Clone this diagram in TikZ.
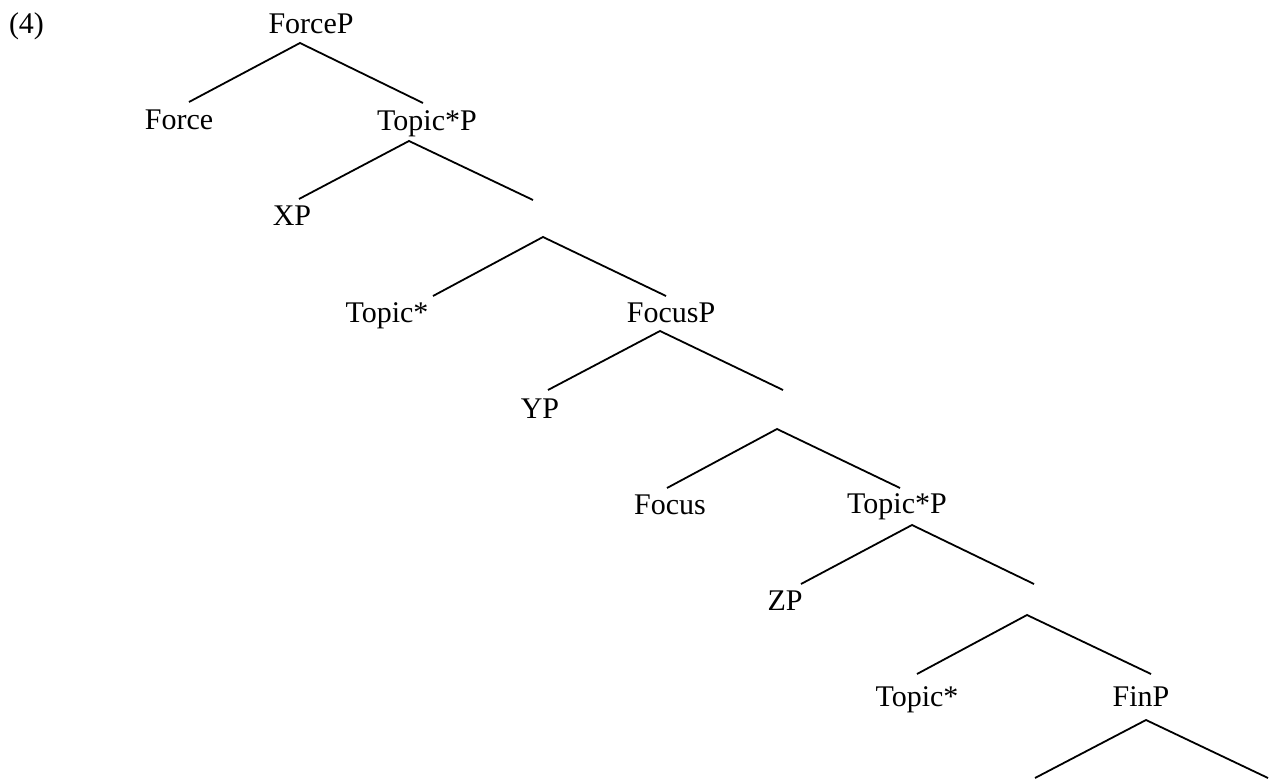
\documentclass[tikz,border=0pt]{standalone}
\usepackage{fontspec}
\setmainfont{Liberation Serif}
\begin{document}
\begin{tikzpicture}[x=0.5pt,y=-0.5pt,
  lbl/.style={anchor=base,inner sep=0pt,font=\fontsize{15}{18}\selectfont},
  branch/.style={line width=0.9pt,line cap=butt}]
\useasboundingbox (0,0) rectangle (1278,780);
% labels
\node[lbl] (ex) at (26.5,34) {(4)};
\node[lbl] (forcep) at (311,34) {ForceP};
\node[lbl] (force) at (179,130) {Force};
\node[lbl] (topp1) at (427,131) {Topic*P};
\node[lbl] (xp) at (292,226) {XP};
\node[lbl] (top1) at (387,322) {Topic*};
\node[lbl] (focusp) at (671,322) {FocusP};
\node[lbl] (yp) at (540,418) {YP};
\node[lbl] (focus) at (670,514) {Focus};
\node[lbl] (topp2) at (897,513) {Topic*P};
\node[lbl] (zp) at (785,610) {ZP};
\node[lbl] (top2) at (917,706) {Topic*};
\node[lbl] (finp) at (1141,706) {FinP};
% apexes and branch ends
\coordinate (a0) at (300,43);  \coordinate (l1) at (189,102);  \coordinate (r1) at (423,103);
\coordinate (a1) at (409,141); \coordinate (l2) at (299,199);  \coordinate (r2) at (533,200);
\coordinate (a2) at (543,237); \coordinate (l3) at (433,296);  \coordinate (r3) at (666,296);
\coordinate (a3) at (660,331); \coordinate (l4) at (548,390);  \coordinate (r4) at (783,390);
\coordinate (a4) at (777,429); \coordinate (l5) at (667,488);  \coordinate (r5) at (900,488);
\coordinate (a5) at (912,525); \coordinate (l6) at (801,584);  \coordinate (r6) at (1034,584);
\coordinate (a6) at (1027,615); \coordinate (l7) at (917,674); \coordinate (r7) at (1151,674);
\coordinate (a7) at (1146,720); \coordinate (l8) at (1035,778); \coordinate (r8) at (1268,778);
% branches
\foreach \i/\j in {0/1,1/2,2/3,3/4,4/5,5/6,6/7,7/8}{
  \draw[branch] (l\j) -- (a\i) -- (r\j);
}
\end{tikzpicture}
\end{document}
